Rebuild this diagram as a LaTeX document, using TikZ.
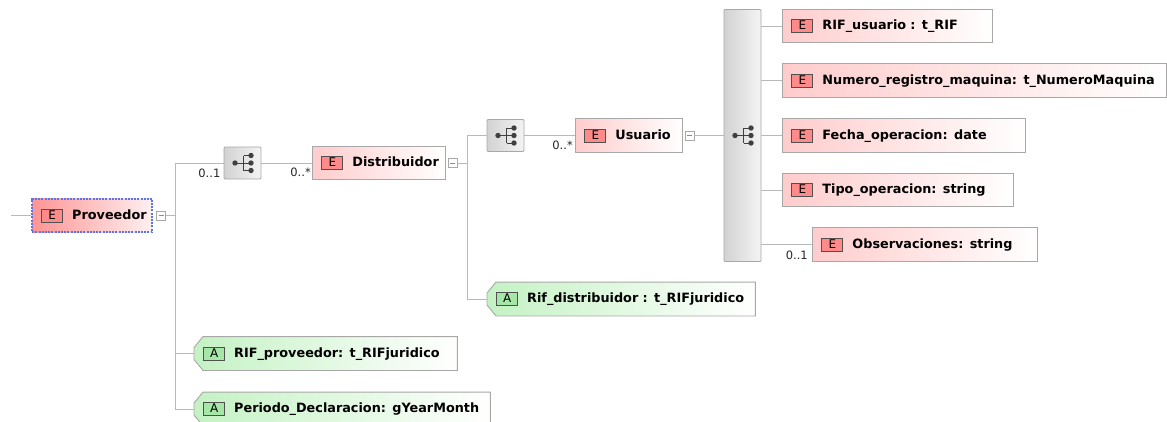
\documentclass[tikz,border=0pt]{standalone}
\usepackage{fontspec}
\setmainfont{DejaVu Sans}
\usetikzlibrary{calc}
\pgfdeclarelayer{bg}
\pgfsetlayers{bg,main}
\definecolor{lineC}{HTML}{B8B8B8}
\definecolor{frameC}{HTML}{A8A8A8}
\definecolor{pinkL}{HTML}{FFCCCC}
\definecolor{provL}{HTML}{FF9494}
\definecolor{provR}{HTML}{FFF0F0}
\definecolor{badgeR}{HTML}{FF8A8A}
\definecolor{badgeB}{HTML}{505050}
\definecolor{greenL}{HTML}{C4F2C4}
\definecolor{badgeG}{HTML}{A6E6A6}
\definecolor{seqL}{HTML}{D2D2D2}
\definecolor{seqR}{HTML}{F4F4F4}
\definecolor{iconC}{HTML}{404040}
\definecolor{selB}{HTML}{5577EE}
\newcommand\lblfont{\fontsize{12.8}{15}\selectfont\bfseries}
\newcommand\multfont{\fontsize{11.5}{12}\selectfont}
\newcommand\ebadge{{\setlength\fboxsep{0pt}\setlength\fboxrule{1pt}\fcolorbox{badgeB}{badgeR}{\makebox[20pt]{\rule[-2.5pt]{0pt}{12pt}\fontsize{12}{12}\selectfont\mdseries E}}}}
\newcommand\abadge{{\setlength\fboxsep{0pt}\setlength\fboxrule{1pt}\fcolorbox{badgeB}{badgeG}{\makebox[20pt]{\rule[-2.5pt]{0pt}{12pt}\fontsize{12}{12}\selectfont\mdseries A}}}}
\newcommand\attrshape[1]{\begin{pgfonlayer}{bg}\draw[frameC, line width=0.9pt, left color=greenL, right color=white] ($(#1.north west)+(9,0)$) -- (#1.north east) -- (#1.south east) -- ($(#1.south west)+(9,0)$) -- ($(#1.west)+(0,6)$) -- ($(#1.west)+(0,-6)$) -- cycle;\end{pgfonlayer}}
\tikzset{
  link/.style={draw=lineC, line width=0.9pt},
  elem/.style={rectangle, draw=frameC, line width=0.9pt, left color=pinkL, right color=white,
    minimum height=33.5pt, inner xsep=9pt, inner ysep=0pt, text width=#1, align=left,
    anchor=west, font=\lblfont},
  provbox/.style={elem=#1, draw=selB, line width=2.4pt, dash pattern=on 2pt off 1.2pt,
    left color=provL, right color=provR},
  attr/.style={rectangle, draw=none, minimum height=33.5pt, inner xsep=9pt, inner ysep=0pt,
    text width=#1, align=left, anchor=west, font=\lblfont},
  seqbox/.style={rectangle, draw=frameC, line width=0.9pt, left color=seqL, right color=seqR,
    minimum width=37pt, minimum height=32pt, rounded corners=1pt, inner sep=0pt},
  minusbox/.style={rectangle, draw=frameC, fill=white, minimum size=9pt, inner sep=0pt,
    path picture={\draw[iconC!60, line width=0.8pt] ($(path picture bounding box.west)+(2,0)$) -- ($(path picture bounding box.east)+(-2,0)$);}},
  mult/.style={font=\multfont, inner sep=0pt, anchor=north east, text=black!85},
  seqicon/.pic={
    \draw[iconC, line width=1pt] (-7.5,0) -- (1,0) (1,-7.5) -- (1,7.5)
      (1,-7.5) -- (8.5,-7.5) (1,7.5) -- (8.5,7.5) (1,0) -- (8.5,0);
    \fill[iconC] (-7.5,0) circle (2.7pt) (8.5,-7.5) circle (2.7pt) (8.5,0) circle (2.7pt) (8.5,7.5) circle (2.7pt);
  }
}
\begin{document}
\begin{tikzpicture}[x=1pt, y=-1pt]
\useasboundingbox (0,0) rectangle (1167,421);
% Proveedor
\coordinate (in) at (11,215.5);
\node[provbox=102pt] (prov) at (31,215.5) {\mbox{\ebadge\hspace{9pt}Proveedor}};
\node[minusbox] (pm) at (161,215.5) {};
\coordinate (j1) at (175,215.5);
% sequence 1 and Distribuidor
\node[seqbox] (s1) at (242.5,163) {};
\pic at (s1.center) {seqicon};
\node[elem=115pt] (dist) at (312,163) {\mbox{\ebadge\hspace{9pt}Distribuidor}};
\node[minusbox] (dm) at (452.5,163) {};
\coordinate (j2) at (467,163);
% sequence 2 and Usuario
\node[seqbox] (s2) at (505.5,135.5) {};
\pic at (s2.center) {seqicon};
\node[elem=89pt] (usu) at (575,135.5) {\mbox{\ebadge\hspace{9pt}Usuario}};
\node[minusbox] (um) at (689.5,135.5) {};
% tall sequence bar
\node[seqbox, minimum height=252pt] (bar) at (742.5,135.5) {};
\pic at (bar.center) {seqicon};
% child elements
\node[elem=192pt] (rifu) at (782,26) {\mbox{\ebadge\hspace{9pt}RIF\_usuario : t\_RIF}};
\node[elem=366pt] (num) at (782,80.5) {\mbox{\ebadge\hspace{9pt}Numero\_registro\_maquina: t\_NumeroMaquina}};
\node[elem=225pt] (fec) at (782,135.5) {\mbox{\ebadge\hspace{9pt}Fecha\_operacion: date}};
\node[elem=213pt] (tipo) at (782,190) {\mbox{\ebadge\hspace{9pt}Tipo\_operacion: string}};
\node[elem=207pt] (obs) at (812,244.5) {\mbox{\ebadge\hspace{9pt}Observaciones: string}};
% attributes
\node[attr=250pt] (rifd) at (487,299) {\mbox{\abadge\hspace{9pt}Rif\_distribuidor : t\_RIFjuridico}};
\attrshape{rifd}
\node[attr=245pt] (rifp) at (194,353.5) {\mbox{\abadge\hspace{9pt}RIF\_proveedor: t\_RIFjuridico}};
\attrshape{rifp}
\node[attr=278pt] (per) at (194,409) {\mbox{\abadge\hspace{9pt}Periodo\_Declaracion: gYearMonth}};
\attrshape{per}
% multiplicities
\node[mult] (m1) at ($(s1.west)+(-3,6)$) {0..1};
\node[mult] (m2) at ($(dist.west)+(-1,5)$) {0..*};
\node[mult] (m3) at ($(usu.west)+(-2,5)$) {0..*};
\node[mult] (m4) at ($(obs.west)+(-4,6)$) {0..1};
% connectors
\draw[link] (in) -- (prov.west);
\draw[link] (pm.east) -- (j1);
\draw[link] (j1) |- (s1.west);
\draw[link] (j1) |- (rifp.west);
\draw[link] (j1) |- (per.west);
\draw[link] (s1.east) -- (dist.west);
\draw[link] (dm.east) -- (j2);
\draw[link] (j2) |- (s2.west);
\draw[link] (j2) |- (rifd.west);
\draw[link] (s2.east) -- (usu.west);
\draw[link] (um.east) -- (bar.west |- um.east);
\foreach \e in {rifu,num,fec,tipo,obs}{
  \draw[link] (bar.east |- \e.west) -- (\e.west);
}
\end{tikzpicture}
\end{document}
